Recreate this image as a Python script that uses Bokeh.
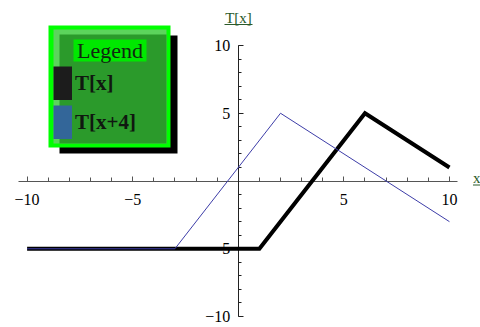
from bokeh.plotting import figure
from bokeh.models import (FixedTicker, Label, BoxAnnotation, Legend, LegendItem, Range1d)
from bokeh.embed import file_html
from bokeh.resources import INLINE

# ---- data ----
t_x = [-10, 1, 6, 10]
t_y = [-5, -5, 5, 1]
t4_x = [-10, -3, 2, 10]
t4_y = [-5, -5, 5, -3]

x_major = [-10, -5, 5, 10]
x_major_labels = ["\u221210", "\u22125", "5", "10"]
x_minor = [-10, -9, -8, -7, -6, -5, -4, -3, -2, -1, 1, 2, 3, 4, 5, 6, 7, 8, 9, 10]
y_major = [-10, -5, 5, 10]
y_major_labels = ["\u221210", "\u22125", "5", "10"]
y_minor = [-10, -9, -8, -7, -6, -5, -4, -3, -2, -1, 1, 2, 3, 4, 5, 6, 7, 8, 9, 10]

legend_title = "Legend"
legend_labels = ["T[x]", "T[x+4]"]
legend_colors = ["#1c1c1c", "#336699"]
series_colors = ["#000000", "#3d3da8"]
series_widths = [4, 1]
y_axis_title = "T[x]"
x_axis_title = "x"

W, H = 480, 327
FONT = "Liberation Serif"
NAN = float("nan")

p = figure(width=W, height=H, x_range=Range1d(-11.26, 11.47), y_range=Range1d(-10.81, 13.32),
           output_backend="svg", toolbar_location=None, min_border=0)
p.outline_line_color = None
p.xgrid.visible = False
p.ygrid.visible = False
p.background_fill_color = "white"
p.border_fill_color = "white"

xa = p.xaxis[0]
xa.fixed_location = 0
xa.ticker = FixedTicker(ticks=x_major, minor_ticks=x_minor)
xa.major_label_overrides = dict(zip(x_major, x_major_labels))
xa.bounds = (-10.4, 10.4)
xa.major_tick_in = 5
xa.major_tick_out = 0
xa.minor_tick_in = 4
xa.minor_tick_out = 0
xa.major_label_standoff = 13
xa.major_label_text_font = FONT
xa.major_label_text_font_size = "16px"
xa.major_label_text_color = "#000000"
xa.axis_line_color = "#555555"
xa.major_tick_line_color = "#555555"
xa.minor_tick_line_color = "#555555"
xa.level = "underlay"

ya = p.yaxis[0]
ya.fixed_location = 0
ya.ticker = FixedTicker(ticks=y_major, minor_ticks=y_minor)
ya.major_label_overrides = dict(zip(y_major, y_major_labels))
ya.bounds = (-10, 10)
ya.major_tick_in = 5
ya.major_tick_out = 0
ya.minor_tick_in = 3
ya.minor_tick_out = 0
ya.major_label_standoff = 8
ya.major_label_text_font = FONT
ya.major_label_text_font_size = "16px"
ya.major_label_text_color = "#000000"
ya.axis_line_color = "#222222"
ya.major_tick_line_color = "#222222"
ya.minor_tick_line_color = "#222222"
ya.level = "underlay"

# curves
p.line(t_x, t_y, line_color=series_colors[0], line_width=series_widths[0], line_join="miter")
p.line(t4_x, t4_y, line_color=series_colors[1], line_width=series_widths[1])

# legend proxies (filled swatches; nothing drawn in the plot area)
proxies = [p.line([NAN], [NAN], line_color=c, line_width=34) for c in legend_colors]


def box(l, t, r, b, color):
    # page pixel coordinates -> screen units (origin bottom-left)
    return BoxAnnotation(left=l, right=r, top=H - t, bottom=H - b,
                         left_units="screen", right_units="screen",
                         top_units="screen", bottom_units="screen",
                         fill_color=color, fill_alpha=1, line_color=None)


# legend frame
p.add_layout(box(59, 35, 177, 153, "#000000"))
p.add_layout(box(48, 25, 170, 147, "#00ff00"))
p.add_layout(box(53, 29, 166, 143, "#5cd45c"))
p.add_layout(box(59, 34, 166, 143, "#2b9a2b"))
p.add_layout(box(73, 39, 146, 61, "#00e800"))

p.add_layout(Label(x=109.5, y=H - 50, x_units="screen", y_units="screen", text=legend_title,
                   text_align="center", text_baseline="middle", text_font=FONT,
                   text_font_size="22px", text_color="#102810"))

legend = Legend(items=[LegendItem(label=l, renderers=[r]) for l, r in zip(legend_labels, proxies)],
                location=(53, H - 139), orientation="vertical", padding=0, margin=0, spacing=5,
                glyph_width=19, glyph_height=34, label_standoff=3,
                label_text_font=FONT, label_text_font_style="bold", label_text_font_size="21px",
                label_text_color="#101810", border_line_color=None, background_fill_alpha=0)
p.add_layout(legend)

# axis titles (underlined, dark green)
p.add_layout(Label(x=238, y=H - 17.5, x_units="screen", y_units="screen", text=y_axis_title,
                   text_align="center", text_baseline="middle", text_font=FONT,
                   text_font_size="15px", text_color="#2a5a2a"))
p.add_layout(box(224, 23.5, 252, 24.5, "#2a5a2a"))
p.add_layout(Label(x=472.5, y=H - 177.5, x_units="screen", y_units="screen", text=x_axis_title,
                   text_align="left", text_baseline="middle", text_font=FONT,
                   text_font_size="15px", text_color="#2a5a2a"))
p.add_layout(box(472.5, 184, 479.5, 185, "#2a5a2a"))

open("out.html", "w").write(file_html(p, INLINE))
